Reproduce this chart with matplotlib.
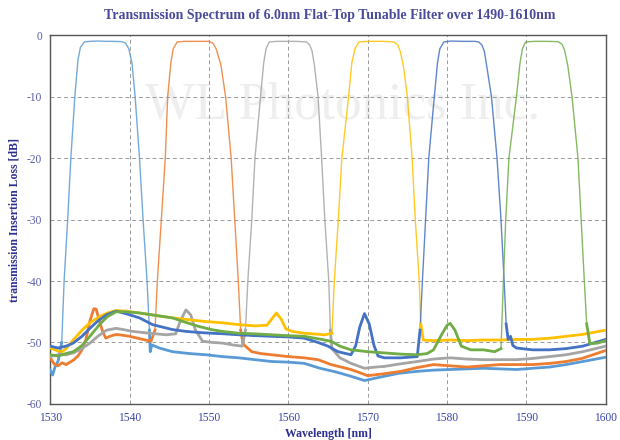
import numpy as np
import matplotlib
matplotlib.use("Agg")
import matplotlib.pyplot as plt

# ---------------- data ----------------
title = "Transmission Spectrum of 6.0nm Flat-Top Tunable Filter over 1490-1610nm"
xlabel = "Wavelength [nm]"
ylabel = "transmission Insertion Loss [dB]"
x_ticks = [1530, 1540, 1550, 1560, 1570, 1580, 1590, 1600]
y_ticks = [0, -10, -20, -30, -40, -50, -60]

ch1_wl = [1530.0, 1530.3, 1530.6, 1531.0, 1531.45, 1531.75, 1532.2, 1532.6, 1533.1, 1533.5, 1533.8, 1534.3,
          1535, 1536, 1537, 1538, 1539, 1539.5, 1539.9, 1540.3, 1540.7, 1541.25, 1541.7, 1542.2, 1542.5,
          1542.6, 1542.8, 1543.75, 1545.4, 1547.5, 1549.6, 1551.7, 1553.75, 1555.8, 1557.9, 1560, 1562,
          1564, 1566, 1567.9, 1569.6, 1571, 1572.1, 1574, 1576.25, 1578.3, 1580.4, 1582.5, 1584.6, 1586.7,
          1588.75, 1590.8, 1592.9, 1595, 1597.1, 1600]
ch1_db = [-54.5, -55.3, -54.0, -53.0, -50, -40, -30, -20, -10, -4, -2, -1.1,
          -1.0, -0.95, -1.0, -1.0, -1.05, -1.3, -2.2, -4.5, -10, -20, -30, -40, -48,
          -51.5, -50.4, -50.9, -51.5, -51.8, -52.0, -52.3, -52.5, -52.8, -53.1, -53.2, -53.4,
          -54.2, -54.8, -55.5, -56.2, -55.8, -55.5, -55.0, -54.7, -54.5, -54.4, -54.3, -54.2, -54.3,
          -54.4, -54.2, -54.0, -53.6, -53.1, -52.4]

ch2_wl = [1530, 1530.5, 1531, 1531.5, 1532, 1532.5, 1533, 1533.5, 1534, 1534.5, 1535, 1535.5, 1535.8,
          1536.2, 1536.6, 1537, 1537.5, 1538.3, 1539, 1540, 1541, 1542, 1542.7, 1543.2, 1543.5, 1544.0,
          1544.5, 1544.8, 1545.2, 1545.5, 1546, 1547, 1548, 1549, 1550, 1550.5, 1550.9, 1551.5, 1552.1,
          1552.8, 1553.25, 1553.7, 1554.0, 1554.3, 1554.6, 1555.4, 1556.5, 1557.9, 1560, 1562, 1563.75,
          1565.4, 1567.9, 1570, 1572, 1574.2, 1576.2, 1578.3, 1580.4, 1582.5, 1584.6, 1586.7, 1588.7,
          1590.8, 1593, 1595, 1597, 1600]
ch2_db = [-52.5, -53.5, -53.8, -53.3, -53.6, -53.2, -52.8, -52.2, -51.2, -49.5, -46.5, -44.5, -44.6,
          -46.5, -48.2, -49.3, -49.0, -48.7, -48.8, -49.0, -49.3, -49.6, -49.8, -48, -40, -30,
          -20, -10, -4.5, -2.2, -1.1, -1.0, -1.0, -1.0, -1.0, -1.3, -2.2, -4.8, -10,
          -20, -30, -40, -48, -50.2, -50.6, -51.5, -51.8, -52.0, -52.3, -52.5, -52.8,
          -53.6, -54.4, -55.4, -55.1, -54.7, -54.1, -53.6, -53.8, -54.0, -53.8, -53.6, -53.6,
          -53.6, -53.4, -53.1, -52.6, -51.3]

ch3_wl = [1530, 1531, 1532, 1532.9, 1534, 1535, 1536, 1537.1, 1538.3, 1539.2, 1540.4, 1542.5, 1544.6,
          1545.8, 1546.4, 1547.1, 1547.7, 1548.3, 1549.2, 1550.5, 1551.7, 1553.0, 1554.2, 1554.6, 1554.9,
          1555.4, 1555.8, 1556.5, 1556.9, 1557.2, 1557.6, 1558.5, 1560, 1561, 1562.3, 1562.7, 1563.0,
          1563.3, 1563.75, 1564.2, 1564.6, 1565.1, 1565.3, 1565.5, 1566.5, 1567.9, 1569.6, 1571, 1572.1,
          1574, 1576.25, 1578.3, 1580.4, 1582.5, 1584.6, 1586.7, 1588.75, 1590.8, 1592.9, 1595, 1597.1, 1600]
ch3_db = [-52.3, -52.0, -52.0, -51.7, -51.0, -50.1, -49.0, -48.0, -47.7, -47.9, -48.2, -48.5, -48.75,
          -48.6, -46.5, -44.7, -45.5, -48.0, -49.8, -50.0, -50.1, -50.4, -50.6, -48, -40,
          -30, -20, -10, -4.5, -2.2, -1.1, -1.0, -1.0, -1.0, -1.1, -1.6, -2.6,
          -5, -10, -20, -30, -40, -48, -51.0, -52.5, -53.4, -54.2, -54.0, -53.9,
          -53.5, -53.1, -52.7, -52.5, -52.7, -52.8, -52.8, -52.8, -52.6, -52.3, -52.0, -51.5, -50.6]

ch4_wl = [1530, 1531, 1531.5, 1532.0, 1532.9, 1534, 1535, 1536.2, 1537.2, 1538.3, 1539.5, 1541.25, 1543.3,
          1545.4, 1547.5, 1549.6, 1551.7, 1553.75, 1555.8, 1557.3, 1557.9, 1558.5, 1559.1, 1559.7, 1560.5,
          1562, 1564.6, 1565.5, 1565.8, 1566.3, 1566.75, 1567.6, 1568.0, 1568.4, 1568.9, 1570, 1571, 1572,
          1573.3, 1573.8, 1574.1, 1574.5, 1575.0, 1575.6, 1576.0, 1576.5, 1576.7, 1577.0, 1578.3, 1580.4,
          1582.5, 1584.6, 1586.7, 1588.7, 1590.8, 1593, 1595, 1597, 1600]
ch4_db = [-50.9, -51.4, -51.5, -51.0, -49.6, -48.0, -46.8, -45.8, -45.2, -44.8, -44.9, -45.2, -45.6,
          -46.0, -46.3, -46.6, -46.8, -47.1, -47.3, -47.2, -46.2, -45.2, -46.2, -47.8, -48.2,
          -48.5, -48.75, -48.5, -40, -30, -20, -10, -4.5, -2.2, -1.1, -1.0, -1.0, -1.0,
          -1.1, -1.6, -2.6, -5, -10, -20, -30, -40, -47, -49.6, -49.7, -49.6,
          -49.7, -49.6, -49.6, -49.5, -49.5, -49.3, -49.0, -48.7, -48.0]

ch5_wl = [1530, 1531, 1532, 1532.9, 1534, 1535, 1536, 1537.1, 1538.3, 1539.5, 1541.25, 1542.9, 1545.4,
          1547.1, 1549, 1550.4, 1552, 1553.75, 1556, 1557.9, 1560, 1562, 1563.75, 1565, 1566.25, 1567.9,
          1568.5, 1569.0, 1569.6, 1570.2, 1570.8, 1571.3, 1572.1, 1574.2, 1576.25, 1576.6, 1576.9, 1577.3,
          1577.7, 1578.4, 1578.8, 1579.1, 1579.6, 1580.5, 1582, 1583.5, 1584.0, 1584.4, 1584.7, 1585.0,
          1585.6, 1586.3, 1586.8, 1587.2, 1587.45, 1587.7, 1588.0, 1588.3, 1588.75, 1590.8, 1592.9, 1595,
          1597.1, 1600]
ch5_db = [-50.6, -50.9, -50.6, -50.1, -49.0, -47.7, -46.5, -45.5, -44.9, -45.3, -46.0, -47.1, -47.9,
          -48.2, -48.4, -48.5, -48.6, -48.75, -48.9, -49.0, -49.1, -49.3, -50.0, -50.6, -51.5, -52.0,
          -50.5, -47.5, -45.3, -47.0, -50.5, -52.2, -52.5, -52.5, -52.3, -48, -40, -30,
          -20, -10, -4.5, -2.2, -1.1, -0.95, -1.0, -1.0, -1.1, -1.6, -2.6, -5,
          -10, -20, -30, -40, -47, -49.5, -49.0, -50.5, -50.9, -51.2, -51.2, -51.0,
          -50.6, -49.5]

ch6_wl = [1530, 1531, 1532, 1532.9, 1534, 1535, 1536.2, 1537.2, 1538.3, 1539.5, 1541.25, 1543.3, 1545.4,
          1547, 1548.75, 1550.3, 1551.7, 1553.75, 1555.8, 1557.9, 1560, 1562, 1563.75, 1565.4, 1566.5,
          1567.9, 1570, 1572.1, 1574.2, 1576.25, 1577.5, 1578.3, 1579.2, 1580.0, 1580.4, 1581.0, 1581.8,
          1583, 1584.6, 1586, 1586.8, 1587.1, 1587.4, 1587.8, 1588.75, 1589.2, 1589.5, 1589.9, 1591, 1592.5,
          1594.0, 1594.5, 1594.8, 1595.2, 1595.75, 1596.5, 1596.9, 1597.3, 1597.6, 1598.0, 1599, 1600]
ch6_db = [-52.0, -52.2, -51.8, -51.5, -50.5, -49.0, -47.1, -45.8, -45.0, -45.0, -45.2, -45.6, -46.0,
          -46.7, -47.4, -47.9, -48.2, -48.5, -48.6, -48.75, -48.9, -49.0, -49.4, -49.8, -50.6,
          -51.2, -51.5, -51.7, -51.9, -52.0, -51.8, -51.2, -49.0, -47.2, -46.9, -48.0, -50.6,
          -51.2, -51.2, -51.5, -51.0, -40, -30, -20, -10, -4.5, -2.2, -1.1, -1.0, -1.0,
          -1.05, -1.5, -2.4, -4.8, -10, -20, -30, -40, -47, -50.2, -50.1, -49.7]

series = [
    (ch1_wl, ch1_db, "#5B9BD5"),
    (ch2_wl, ch2_db, "#ED7D31"),
    (ch3_wl, ch3_db, "#A5A5A5"),
    (ch4_wl, ch4_db, "#FFC000"),
    (ch5_wl, ch5_db, "#4472C4"),
    (ch6_wl, ch6_db, "#70AD47"),
]

# ---------------- figure ----------------
fig = plt.figure(figsize=(6.2, 4.4), dpi=100)
ax = fig.add_axes([0.081, 0.082, 0.896, 0.838])

serif = ["Liberation Serif", "DejaVu Serif"]
navy = "#2b2f8f"

# faint watermark
ax.text(0.527, 0.81, "WL Photonics Inc.", transform=ax.transAxes, ha="center", va="center",
        fontsize=38, family=serif, color="#eeeeee", zorder=0)

for wl, db, c in series:
    wl = np.asarray(wl, float)
    db = np.asarray(db, float)
    ax.plot(wl, db, color=c, lw=1.0, alpha=0.85, zorder=2)
    floor = np.where(db < -43, db, np.nan)
    ax.plot(wl, floor, color=c, lw=2.0, zorder=3)

ax.set_xlim(1530, 1600)
ax.set_ylim(-60, 0)
ax.set_xticks(x_ticks)
ax.set_yticks(y_ticks)
ax.set_xticklabels([str(v) for v in x_ticks], family=serif, fontsize=8.3, color="#3a46a8")
ax.set_yticklabels([str(v) for v in y_ticks], family=serif, fontsize=8.3, color="#5a5fa8")
ax.tick_params(length=0, pad=6)
ax.grid(True, color="#9a9a9a", lw=0.7, ls=(0, (4, 3)))
ax.set_axisbelow(True)
for s in ax.spines.values():
    s.set_color("#555555")
    s.set_linewidth(1.0)

ax.set_xlabel(xlabel, family=serif, fontsize=8.5, fontweight="bold", color=navy, labelpad=3)
ax.set_ylabel(ylabel, family=serif, fontsize=8.5, fontweight="bold", color=navy, labelpad=4)
fig.text(0.532, 0.965, title, ha="center", va="center", family=serif, fontsize=10,
         fontweight="bold", color="#4a4a9c")

fig.savefig("out.png", dpi=100)
